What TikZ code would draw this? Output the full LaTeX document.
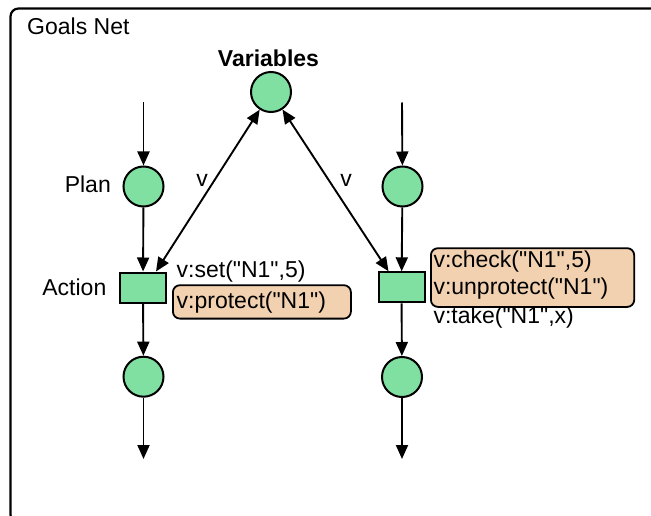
\documentclass[tikz,border=0pt]{standalone}
\usepackage{fontspec}
% plain family: no TeX ligatures, so " stays a straight quote
\newfontfamily\diagfont{Liberation Sans}
\usetikzlibrary{arrows.meta,calc}

\definecolor{placegreen}{RGB}{128,224,162}
\definecolor{memopeach}{RGB}{242,209,177}

\tikzset{
  x=1pt, y=-1pt,
  every node/.style={font=\diagfont\fontsize{23}{27}\selectfont},
  place/.style={circle, draw, line width=2pt, fill=placegreen,
                minimum size=40pt, inner sep=0pt},
  transition/.style={rectangle, draw, line width=2pt, fill=placegreen,
                     minimum width=46pt, minimum height=30pt, inner sep=0pt},
  memo/.style={rectangle, draw, line width=1.8pt, fill=memopeach,
               rounded corners=7pt, inner sep=0pt, anchor=north west},
  label text/.style={inner sep=0pt, anchor=base west},
  flow/.style={line width=1.9pt, -{Triangle[length=14pt,width=12pt]}},
  bothflow/.style={line width=1.9pt,
                   {Triangle[length=14pt,width=12pt]}-{Triangle[length=14pt,width=12pt]}},
  frame/.style={draw, line width=2.2pt, rounded corners=8pt}
}

\begin{document}
\begin{tikzpicture}
\useasboundingbox (0,0) rectangle (651,516);
\clip (0,0) rectangle (651,516);

% outer frame of the net
\path[frame] (10.5,8.5) rectangle (670,523);
\node[label text] (title) at (27,34.3) {Goals Net};

% shared variables place
\node[place] (var) at (271,92) {};
\node[inner sep=0pt, anchor=base, font=\diagfont\fontsize{23}{27}\selectfont\bfseries] (varlbl) at (268.5,66.7) {Variables};

% left goal: plan -> action -> result
\coordinate (s1) at (143.5,102.5);
\node[place] (p1) at (143.5,186.5) {};
\node[transition] (a1) at (143,287.5) {};
\node[place] (o1) at (143.5,376.7) {};
\coordinate (e1) at (143.5,459);

% right goal
\coordinate (s2) at (402,102.5);
\node[place] (p2) at (402.5,186.5) {};
\node[transition] (a2) at (401.5,287.3) {};
\node[place] (o2) at (402,377) {};
\coordinate (e2) at (402,459);

% flow arcs
\draw[flow] (s1) -- (p1);
\draw[flow] (p1) -- (a1);
\draw[flow] (a1) -- (o1);
\draw[flow] (o1) -- (e1);
\draw[flow] (s2) -- (p2);
\draw[flow] (p2) -- (a2);
\draw[flow] (a2) -- (o2);
\draw[flow] (o2) -- (e2);

% variable access arcs
\coordinate (t1) at ($(a1.north)+(13,0)$);
\coordinate (t2) at ($(a2.north)+(-13,0)$);
\draw[bothflow] (var) -- (t1);
\draw[bothflow] (var) -- (t2);
\node[inner sep=0pt] (v1) at (202,180) {v};
\node[inner sep=0pt] (v2) at (346,180) {v};

% side labels
\node[inner sep=0pt, anchor=base east] (planlbl) at (111,192.3) {Plan};
\node[inner sep=0pt, anchor=base east] (actlbl) at (106.5,295) {Action};

% inscriptions of the left action
\node[label text] (set) at (176.5,277.5) {v:set("N1",5)};
\node[memo, minimum width=178pt, minimum height=33.4pt] (m1) at (172,284.3) {};
\node[label text] (prot) at (176.5,308.5) {v:protect("N1")};

% inscriptions of the right action
\node[memo, minimum width=203.3pt, minimum height=58.7pt] (m2) at (430,247.3) {};
\node[label text] (check) at (433.3,267) {v:check("N1",5)};
\node[label text] (unprot) at (433.3,294.3) {v:unprotect("N1")};
\node[label text] (take) at (433.3,323) {v:take("N1",x)};
\end{tikzpicture}
\end{document}
